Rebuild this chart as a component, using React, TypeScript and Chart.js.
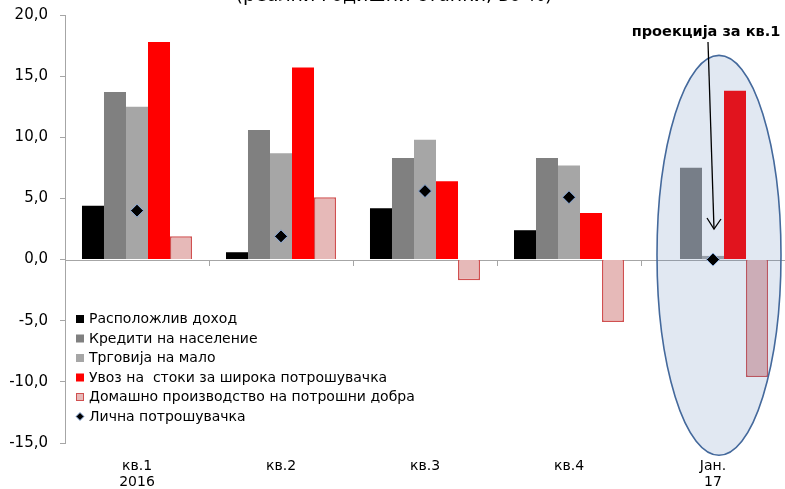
import React, { useEffect, useRef } from "react";
import { Chart, registerables } from "chart.js";

Chart.register(...registerables);

// Categories and series values (real annual rates, %)
const categories: (string | string[])[] = [["кв.1", "2016"], "кв.2", "кв.3", "кв.4", ["Јан.", "17"]];
const disposableIncome = [4.4, 0.6, 4.2, 2.4, null];
const householdLoans = [13.7, 10.6, 8.3, 8.3, 7.5];
const retailTrade = [12.5, 8.7, 9.8, 7.7, 0.3];
const consumerGoodsImports = [17.8, 15.7, 6.4, 3.8, 13.8];
const domesticConsumerGoods = [1.9, 5.1, -1.7, -5.1, -9.6];
const privateConsumption = [4.0, 1.9, 5.6, 5.1, 0.0];

const seriesNames = [
  "Расположлив доход",
  "Кредити на население",
  "Трговија на мало",
  "Увоз на  стоки за широка потрошувачка",
  "Домашно производство на потрошни добра",
  "Лична потрошувачка",
];

const yMin = -15;
const yMax = 20;
const yStep = 5;

const titleText = "(реални годишни стапки, во %)";
const noteText = "проекција за кв.1";

const FONT = "'DejaVu Sans', Verdana, sans-serif";
const AXIS_GRAY = "#a6a6a6";

const colors = {
  income: "#000000",
  loans: "#808080",
  retail: "#a6a6a6",
  imports: "#ff0000",
  domesticFill: "#e6b9b8",
  domesticBorder: "#d05050",
  consumption: "#000000",
  consumptionBorder: "#8fb0e0",
};

// Zero line, category tick marks, highlight ellipse, note, title and legend
const decorations = {
  id: "decorations",
  beforeDatasetsDraw(chart: any) {
    const { ctx, chartArea, scales } = chart;
    const y0 = scales.y.getPixelForValue(0);
    ctx.save();
    ctx.strokeStyle = AXIS_GRAY;
    ctx.lineWidth = 1;
    ctx.beginPath();
    ctx.moveTo(chartArea.left, Math.round(y0) + 0.5);
    ctx.lineTo(chartArea.right, Math.round(y0) + 0.5);
    const n = categories.length;
    const w = (chartArea.right - chartArea.left) / n;
    for (let i = 1; i <= n; i++) {
      const x = Math.round(chartArea.left + i * w) + 0.5;
      ctx.moveTo(x, Math.round(y0));
      ctx.lineTo(x, Math.round(y0) + 6);
    }
    ctx.stroke();
    ctx.restore();
  },
  beforeDatasetDraw(chart: any, args: any) {
    // the highlight ellipse sits over the bars but under the consumption markers
    if (args.meta.type !== "line") return;
    const { ctx, scales } = chart;
    const cx = scales.x.getPixelForValue(4) + 6;
    const top = scales.y.getPixelForValue(16.7);
    const bottom = scales.y.getPixelForValue(-16);
    const cy = (top + bottom) / 2;
    const ry = (bottom - top) / 2;
    const rx = 62;
    ctx.save();
    ctx.beginPath();
    ctx.ellipse(cx, cy, rx, ry, 0, 0, Math.PI * 2);
    ctx.fillStyle = "rgba(76,118,176,0.17)";
    ctx.fill();
    ctx.lineWidth = 1.6;
    ctx.strokeStyle = "#44699c";
    ctx.stroke();
    ctx.restore();
  },
  afterDraw(chart: any) {
    const { ctx, scales } = chart;
    ctx.save();

    // title, mostly above the canvas edge
    ctx.fillStyle = "#000";
    ctx.font = `19px ${FONT}`;
    ctx.textAlign = "center";
    ctx.textBaseline = "alphabetic";
    ctx.fillText(titleText, 394, 1);

    // projection note with arrow
    const tipX = scales.x.getPixelForValue(4) + 1;
    const tipY = scales.y.getPixelForValue(2.5);
    const noteX = tipX - 8;
    ctx.font = `bold 14.5px ${FONT}`;
    ctx.textBaseline = "middle";
    ctx.fillText(noteText, noteX, 32);
    ctx.strokeStyle = "#000";
    ctx.lineWidth = 1.3;
    ctx.beginPath();
    ctx.moveTo(noteX + 2, 42);
    ctx.lineTo(tipX, tipY);
    ctx.stroke();
    ctx.beginPath();
    ctx.moveTo(tipX - 7, tipY - 11);
    ctx.lineTo(tipX, tipY);
    ctx.lineTo(tipX + 7, tipY - 10);
    ctx.stroke();

    // legend inside the plot
    ctx.font = `14px ${FONT}`;
    ctx.textAlign = "left";
    ctx.textBaseline = "middle";
    const lx = 76;
    const ly = 319;
    const step = 19.5;
    const markers = [
      { fill: colors.income, stroke: null },
      { fill: colors.loans, stroke: null },
      { fill: colors.retail, stroke: null },
      { fill: colors.imports, stroke: null },
      { fill: colors.domesticFill, stroke: colors.domesticBorder },
    ];
    seriesNames.forEach((name, i) => {
      const y = ly + i * step;
      if (i < markers.length) {
        const m = markers[i];
        ctx.fillStyle = m.fill;
        ctx.fillRect(lx, y - 4, 8, 8);
        if (m.stroke) {
          ctx.strokeStyle = m.stroke;
          ctx.lineWidth = 1;
          ctx.strokeRect(lx + 0.5, y - 3.5, 7, 7);
        }
      } else {
        ctx.beginPath();
        ctx.moveTo(lx + 4, y - 4);
        ctx.lineTo(lx + 8, y);
        ctx.lineTo(lx + 4, y + 4);
        ctx.lineTo(lx, y);
        ctx.closePath();
        ctx.fillStyle = colors.consumption;
        ctx.fill();
        ctx.strokeStyle = colors.consumptionBorder;
        ctx.lineWidth = 1;
        ctx.stroke();
      }
      ctx.fillStyle = "#000";
      ctx.fillText(name, lx + 13, y + 0.5);
    });
    ctx.restore();
  },
};

export default function App() {
  const canvasRef = useRef<HTMLCanvasElement | null>(null);

  useEffect(() => {
    if (!canvasRef.current) return;
    const barCommon = {
      type: "bar" as const,
      order: 1,
      categoryPercentage: 0.764,
      barPercentage: 1,
      borderWidth: 0,
    };
    const chart = new Chart(canvasRef.current, {
      type: "bar",
      data: {
        labels: categories,
        datasets: [
          { ...barCommon, label: seriesNames[0], data: disposableIncome, backgroundColor: colors.income },
          { ...barCommon, label: seriesNames[1], data: householdLoans, backgroundColor: colors.loans },
          { ...barCommon, label: seriesNames[2], data: retailTrade, backgroundColor: colors.retail },
          { ...barCommon, label: seriesNames[3], data: consumerGoodsImports, backgroundColor: colors.imports },
          {
            ...barCommon,
            label: seriesNames[4],
            data: domesticConsumerGoods,
            backgroundColor: colors.domesticFill,
            borderColor: colors.domesticBorder,
            borderWidth: 1.5,
          },
          {
            type: "line",
            order: 0,
            label: seriesNames[5],
            data: privateConsumption,
            showLine: false,
            pointStyle: "rectRot",
            pointRadius: 6.5,
            pointBackgroundColor: colors.consumption,
            pointBorderColor: colors.consumptionBorder,
            pointBorderWidth: 1,
          } as any,
        ],
      },
      options: {
        responsive: false,
        animation: false,
        devicePixelRatio: 1,
        layout: { autoPadding: false, padding: { top: 15, right: 0, left: 0, bottom: 0 } },
        plugins: {
          legend: { display: false },
          tooltip: { enabled: false },
          title: { display: false },
        },
        scales: {
          x: {
            grid: { display: false, drawTicks: false },
            border: { display: false },
            ticks: {
              color: "#000",
              padding: 16,
              maxRotation: 0,
              autoSkip: false,
              font: { family: FONT, size: 14, lineHeight: 1.1 },
            },
            afterFit(scale: any) {
              scale.height = 46;
              scale.paddingLeft = 0;
              scale.paddingRight = 0;
            },
          },
          y: {
            min: yMin,
            max: yMax,
            grid: { drawOnChartArea: false, tickLength: 5, color: AXIS_GRAY },
            border: { color: AXIS_GRAY },
            ticks: {
              stepSize: yStep,
              color: "#000",
              padding: 12,
              font: { family: FONT, size: 15 },
              callback: (v: any) => Number(v).toFixed(1).replace(".", ","),
            },
            afterFit(scale: any) {
              scale.width = 65;
              scale.paddingTop = 0;
              scale.paddingBottom = 0;
            },
          },
        },
      },
      plugins: [decorations],
    });
    return () => chart.destroy();
  }, []);

  return (
    <div style={{ position: "fixed", left: 0, top: 0, width: 785, height: 489, background: "#fff" }}>
      <canvas ref={canvasRef} width={785} height={489} style={{ display: "block" }} />
    </div>
  );
}
